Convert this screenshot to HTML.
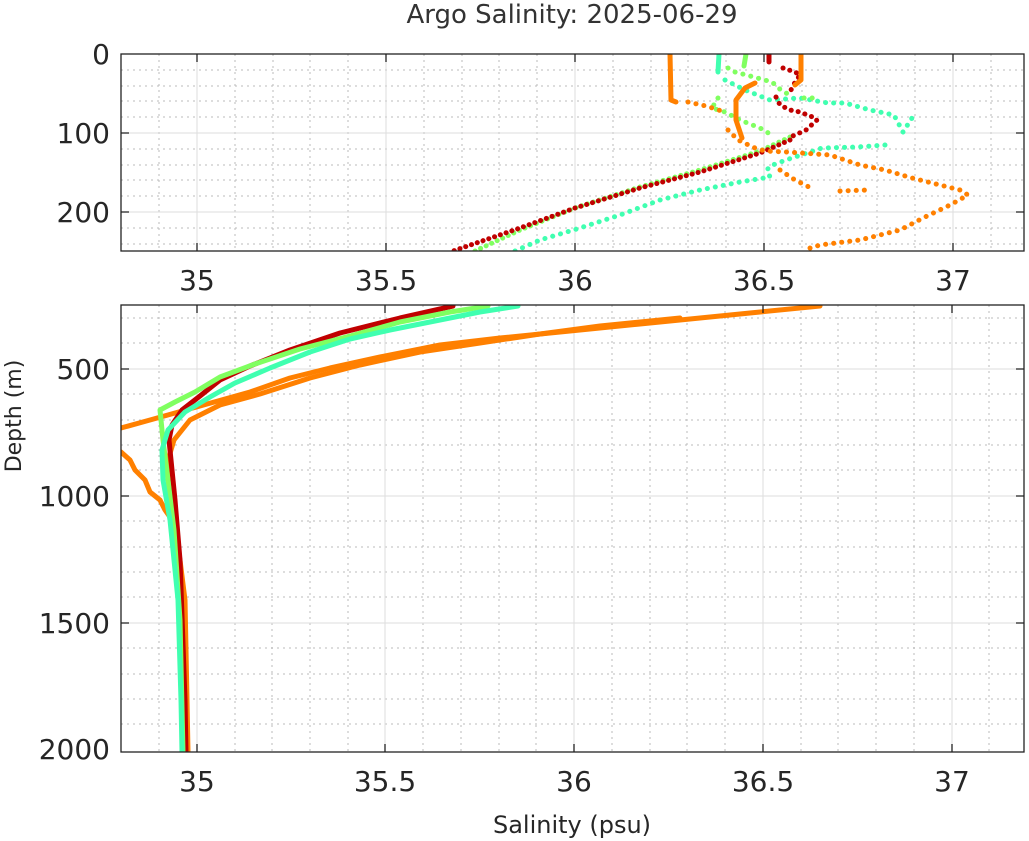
<!DOCTYPE html>
<html><head><meta charset="utf-8"><style>
body{margin:0;background:#fff}
svg{display:block;font-family:"DejaVu Sans","Liberation Sans",sans-serif}
</style></head><body>
<svg width="1029" height="841" viewBox="0 0 1029 841" xmlns="http://www.w3.org/2000/svg">
<defs>
<clipPath id="c1"><rect x="121" y="54" width="903" height="197"/></clipPath>
<clipPath id="c2"><rect x="121" y="305" width="903" height="447"/></clipPath>
</defs>
<text x="572" y="23" font-size="26" text-anchor="middle" fill="#333">Argo Salinity: 2025-06-29</text>
<g stroke="#bbb" stroke-width="1" stroke-dasharray="2,4">
<path d="M121,70H1024M121,86H1024M121,101H1024M121,117H1024M121,149H1024M121,165H1024M121,180H1024M121,196H1024M121,228H1024M121,244H1024"/>
<path d="M159,54V251M235,54V251M273,54V251M310,54V251M348,54V251M424,54V251M462,54V251M499,54V251M537,54V251M613,54V251M651,54V251M688,54V251M726,54V251M802,54V251M840,54V251M877,54V251M915,54V251M991,54V251"/>
</g>
<g stroke="#ddd" stroke-width="1"><path d="M121,133H1024M121,212H1024M197,54V251M386,54V251M575,54V251M764,54V251M953,54V251"/></g>
<g stroke="#bbb" stroke-width="1" stroke-dasharray="2,4">
<path d="M121,318H1024M121,343H1024M121,394H1024M121,420H1024M121,445H1024M121,470H1024M121,521H1024M121,547H1024M121,572H1024M121,597H1024M121,648H1024M121,674H1024M121,699H1024M121,724H1024"/>
<path d="M159,305V752M235,305V752M272,305V752M310,305V752M348,305V752M423,305V752M461,305V752M499,305V752M536,305V752M612,305V752M650,305V752M687,305V752M725,305V752M801,305V752M838,305V752M876,305V752M914,305V752M989,305V752"/>
</g>
<g stroke="#ddd" stroke-width="1"><path d="M121,369H1024M121,496H1024M121,623H1024M197,305V752M385,305V752M574,305V752M763,305V752M952,305V752"/></g>

<g clip-path="url(#c1)" fill="none" stroke-linecap="round" stroke-linejoin="round">
<g stroke="#40ffb0" stroke-width="5" stroke-dasharray="0.1,8">
<polyline stroke-dasharray="none" points="719,54 718,72"/>
<polyline points="725,80 745,90 770,100 800,98 828,103 845,103 870,110 894,115 903,132 912,118 918,117"/>
<polyline points="885,145 858,147 822,148 786,160 770,166 767,170 770,177 740,182 700,190 660,200 620,215 580,228 540,240 515,251"/>
</g>
<g stroke="#80ff60" stroke-width="5" stroke-dasharray="0.1,8">
<polyline stroke-dasharray="none" points="746,54 744,66"/>
<polyline points="728,68 735,72 750,76 772,82 782,91 790,95"/>
<polyline points="718,98 712,108 725,112 740,120 760,128 770,134"/>
<polyline points="804,98 815,98"/>
<polyline stroke-dasharray="0.1,6" points="790,137 760,151 700,170 640,187 575,208 520,230 475,251"/>
</g>
<g stroke="#c00000" stroke-width="5" stroke-dasharray="0.1,7">
<polyline stroke-dasharray="none" points="769,54 769,62"/>
<polyline points="783,68 795,72 800,75 794,84 791,90"/>
<polyline points="776,97 780,105 790,110 800,112 815,118 817,120 806,130 795,135 788,138"/>
<polyline stroke-dasharray="0.1,6" points="790,140 760,153 700,172 640,188 575,208 520,228 453,251"/>
</g>
<g stroke="#ff8000" stroke-width="5" stroke-dasharray="0.1,8">
<polyline stroke-dasharray="none" points="670,54 671,100 676,102"/>
<polyline stroke-dasharray="none" points="801,54 801,80 795,85"/>
<polyline points="688,102 706,106 725,112"/>
<polyline stroke-dasharray="none" points="755,83 745,88 736,100 736,120 742,138"/>
<polyline points="728,130 738,140 755,148 765,151 787,152 830,155 860,165 885,170 912,178 940,185 960,190 968,195 950,205 925,217 900,230 860,240 820,245 810,248 812,251"/>
<polyline points="780,170 795,180 815,190"/>
<polyline points="840,191 868,190"/>
</g>
</g>

<g clip-path="url(#c2)" fill="none" stroke-linecap="round" stroke-linejoin="round" stroke-width="5">
<polyline stroke="#ff8000" points="820,306 760,312 700,318 640,324 580,330 500,338 440,345 380,357 330,368 290,378 250,392 200,406 150,420 121,428"/>
<polyline stroke="#ff8000" points="121,452 130,460 135,470 145,480 150,492 160,500 165,510 172,520 180,560 185,600 187,700 188,752"/>
<polyline stroke="#ff8000" points="680,318 600,326 540,334 480,343 420,352 360,365 310,378 260,394 220,405 190,420 174,440 168,460 170,500 176,540"/>
<polyline stroke="#c00000" points="453,306 400,318 340,333 290,350 250,366 220,380 200,396 182,410 172,425 169,440 172,470 175,500 180,560 185,700 186,752"/>
<polyline stroke="#80ff60" points="488,306 450,312 400,322 350,336 300,349 255,364 220,377 195,392 175,402 160,410 163,440 168,480 174,530 180,620 183,752"/>
<polyline stroke="#40ffb0" points="518,306 480,312 430,322 390,330 350,339 310,352 270,368 235,383 210,397 185,412 168,430 162,450 163,480 170,520 178,600 181,700 182,752"/>
</g>

<g stroke="#222" stroke-width="1.3" fill="none">
<rect x="121" y="54" width="903" height="197"/>
<rect x="121" y="305" width="903" height="447"/>
<path d="M121,133h8M121,212h8M1024,133h-8M1024,212h-8M197,251v-8M386,251v-8M575,251v-8M764,251v-8M953,251v-8M197,54v8M386,54v8M575,54v8M764,54v8M953,54v8"/>
<path d="M121,369h8M121,496h8M121,623h8M1024,369h-8M1024,496h-8M1024,623h-8M197,752v-8M385,752v-8M574,752v-8M763,752v-8M952,752v-8M197,305v8M385,305v8M574,305v8M763,305v8M952,305v8"/>
</g>
<g font-size="28" fill="#262626">
<g text-anchor="end"><text x="110" y="64">0</text><text x="110" y="143">100</text><text x="110" y="222">200</text>
<text x="110" y="379">500</text><text x="110" y="506">1000</text><text x="110" y="633">1500</text><text x="110" y="759">2000</text></g>
<g text-anchor="middle"><text x="197" y="290">35</text><text x="386" y="290">35.5</text><text x="575" y="290">36</text><text x="764" y="290">36.5</text><text x="953" y="290">37</text>
<text x="197" y="791">35</text><text x="385" y="791">35.5</text><text x="574" y="791">36</text><text x="763" y="791">36.5</text><text x="952" y="791">37</text></g>
</g>
<text x="572" y="833" font-size="24" text-anchor="middle" fill="#262626">Salinity (psu)</text>
<text transform="translate(21,416) rotate(-90)" font-size="22" text-anchor="middle" fill="#262626">Depth (m)</text>
</svg>
</body></html>
